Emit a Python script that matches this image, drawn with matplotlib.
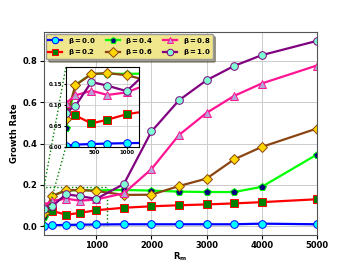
import numpy as np
import matplotlib.pyplot as plt
from mpl_toolkits.axes_grid1.inset_locator import mark_inset

rm = [50, 200, 450, 700, 1000, 1500, 2000, 2500, 3000, 3500, 4000, 5000]

b00 = [0.003, 0.0055, 0.007, 0.008, 0.009, 0.01, 0.01, 0.01, 0.01, 0.01, 0.013, 0.01]
b02 = [0.085, 0.075, 0.056, 0.065, 0.078, 0.09, 0.097, 0.102, 0.106, 0.111, 0.117, 0.131]
b04 = [0.044, 0.148, 0.174, 0.175, 0.174, 0.176, 0.173, 0.168, 0.166, 0.166, 0.191, 0.347]
b06 = [0.066, 0.147, 0.174, 0.176, 0.171, 0.152, 0.153, 0.195, 0.231, 0.324, 0.384, 0.473]
b08 = [0.104, 0.123, 0.134, 0.124, 0.13, 0.16, 0.277, 0.442, 0.549, 0.631, 0.691, 0.778]
b10 = [0.082, 0.098, 0.155, 0.146, 0.133, 0.205, 0.459, 0.61, 0.707, 0.776, 0.828, 0.897]

series = [
    (b00, r'$\mathbf{\beta = 0.0}$', 'blue', 'o', 'cyan'),
    (b02, r'$\mathbf{\beta = 0.2}$', 'red', 's', 'green'),
    (b04, r'$\mathbf{\beta = 0.4}$', 'lime', 'p', 'navy'),
    (b06, r'$\mathbf{\beta = 0.6}$', '#8B4513', 'D', 'gold'),
    (b08, r'$\mathbf{\beta = 0.8}$', 'deeppink', '^', '#b3a6d6'),
    (b10, r'$\mathbf{\beta = 1.0}$', 'purple', 'o', 'aquamarine'),
]

fig, ax = plt.subplots(figsize=(3.52, 2.64), dpi=100)
fig.subplots_adjust(left=0.125, right=0.9, bottom=0.11, top=0.88)

for y, lab, lc, mk, fc in series:
    ax.plot(rm, y, color=lc, lw=1.6, marker=mk, ms=5.5, mfc=fc, mec=lc, mew=0.7, label=lab)

ax.set_xlim(50, 5000)
ax.set_xticks([1000, 2000, 3000, 4000, 5000])
ax.set_yticks([0.0, 0.2, 0.4, 0.6, 0.8])
ax.grid(True, color='#cccccc', lw=0.7)
ax.tick_params(labelsize=6, length=3, pad=1.5)
for t in ax.get_xticklabels() + ax.get_yticklabels():
    t.set_fontweight('bold')
ax.set_xlabel(r'$\mathbf{R_m}$', fontsize=6, labelpad=0.5)
ax.set_ylabel('Growth Rate', fontsize=6, fontweight='bold', labelpad=3)
for s in ax.spines.values():
    s.set_color('#555555')

leg = ax.legend(loc='upper left', ncol=3, fontsize=5, facecolor='khaki', edgecolor='#999999',
                framealpha=1, shadow=True, handlelength=2.0, columnspacing=1.5,
                borderaxespad=0.3, labelspacing=0.2, borderpad=0.3, markerscale=0.85)

axins = ax.inset_axes([0.08, 0.433, 0.27, 0.392])
for y, lab, lc, mk, fc in series:
    axins.plot(rm, y, color=lc, lw=1.6, marker=mk, ms=5.5, mfc=fc, mec=lc, mew=0.7)
axins.set_xlim(50, 1200)
axins.set_ylim(0, 0.19)
axins.set_xticks([500, 1000])
axins.set_yticks([0.0, 0.05, 0.10, 0.15])
axins.set_yticklabels(['0.00', '0.05', '0.10', '0.15'])
axins.grid(True, color='#cccccc', lw=0.6)
axins.tick_params(labelsize=4, length=1.5, pad=1)
for t in axins.get_xticklabels() + axins.get_yticklabels():
    t.set_fontweight('bold')
axins.set_facecolor('white')

mark_inset(ax, axins, loc1=2, loc2=3, fc='none', ec='green', ls=':', lw=1)

fig.savefig('out.png', dpi=100)
